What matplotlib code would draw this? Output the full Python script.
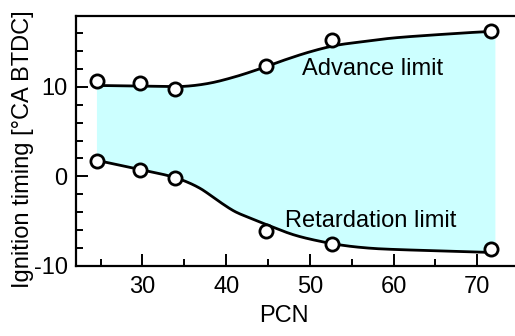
import matplotlib
matplotlib.use("Agg")
import matplotlib.pyplot as plt
from matplotlib.ticker import MultipleLocator
import numpy as np

plt.rcParams['font.family'] = ['Liberation Sans', 'DejaVu Sans']
plt.rcParams['axes.unicode_minus'] = False

# Measured points
pcn = [24.6, 29.7, 33.9, 44.8, 52.6, 71.6]
advance_pts = [10.67, 10.4, 9.74, 12.3, 15.2, 16.2]
retard_pts = [1.75, 0.71, -0.18, -6.05, -7.6, -8.1]

# Fitted curves
adv_curve_x = [24.5, 28, 32, 35, 38, 41, 44, 47, 50, 53, 56, 60, 65, 70, 72.1]
adv_curve_y = [10.15, 10.1, 10.05, 10.05, 10.4, 11.1, 12.0, 13.0, 13.9, 14.6, 15.0, 15.45, 15.8, 16.1, 16.2]
ret_curve_x = [24.5, 27, 30, 33, 35, 37, 39, 41, 43, 45, 48, 51, 54, 57, 60, 65, 70, 72.1]
ret_curve_y = [1.8, 1.3, 0.7, 0.1, -0.5, -1.4, -2.7, -3.9, -4.7, -5.45, -6.5, -7.2, -7.7, -8.0, -8.15, -8.3, -8.45, -8.5]


def smooth(xs, ys, n=12):
    """Catmull-Rom rendering through the read curve points (for drawing only)."""
    x = np.asarray(xs, float)
    y = np.asarray(ys, float)
    px = np.concatenate([[2 * x[0] - x[1]], x, [2 * x[-1] - x[-2]]])
    py = np.concatenate([[2 * y[0] - y[1]], y, [2 * y[-1] - y[-2]]])
    ox, oy = [], []
    t = np.linspace(0, 1, n, endpoint=False)
    for i in range(1, len(px) - 2):
        for arr, out in ((px, ox), (py, oy)):
            p0, p1, p2, p3 = arr[i - 1], arr[i], arr[i + 1], arr[i + 2]
            out.extend(0.5 * ((2 * p1) + (-p0 + p2) * t + (2 * p0 - 5 * p1 + 4 * p2 - p3) * t ** 2
                              + (-p0 + 3 * p1 - 3 * p2 + p3) * t ** 3))
    ox.append(x[-1])
    oy.append(y[-1])
    return np.array(ox), np.array(oy)


FS = 17

fig = plt.figure(figsize=(5.15, 3.36), dpi=100)
ax = fig.add_axes([76/515, 1-266/336, 1-76/515, 250/336])

ax_s, ay_s = smooth(adv_curve_x, adv_curve_y)
rx_s, ry_s = smooth(ret_curve_x, ret_curve_y)

fill_y_top = np.interp(rx_s, ax_s, ay_s)
ax.fill_between(rx_s, ry_s, fill_y_top, color='#ccffff', lw=0, zorder=1)

ax.plot(ax_s, ay_s, color='black', lw=2, zorder=2)
ax.plot(rx_s, ry_s, color='black', lw=2, zorder=2)
ax.plot(pcn, advance_pts, 'o', ms=9.5, mfc='white', mec='black', mew=2, zorder=3, clip_on=False)
ax.plot(pcn, retard_pts, 'o', ms=9.5, mfc='white', mec='black', mew=2, zorder=3, clip_on=False)

ax.text(49.0, 11.97, 'Advance limit', fontsize=FS, ha='left', va='center')
ax.text(47.0, -4.94, 'Retardation limit', fontsize=FS, ha='left', va='center')

ax.set_xlim(22.06, 74.5)
ax.set_ylim(-10, 17.9)
ax.xaxis.set_minor_locator(MultipleLocator(5))
ax.yaxis.set_major_locator(MultipleLocator(10))
ax.yaxis.set_minor_locator(MultipleLocator(2))
ax.set_xticks([30, 40, 50, 60, 70])
ax.tick_params(which='major', direction='in', length=8.5, width=1.4, labelsize=FS, pad=7)
ax.tick_params(which='minor', direction='in', length=5, width=1.4)
ax.tick_params(axis='y', which='major', pad=6)
ax.spines['right'].set_visible(False)
for s in ['left', 'top', 'bottom']:
    ax.spines[s].set_linewidth(1.6)

fig.text(284/515, 1-316.5/336, 'PCN', fontsize=FS, ha='center', va='center')
fig.text(23/515, 1-149/336, 'Ignition timing [°CA BTDC]', fontsize=FS, ha='center', va='center', rotation=90)

fig.savefig('out.png', dpi=100)
